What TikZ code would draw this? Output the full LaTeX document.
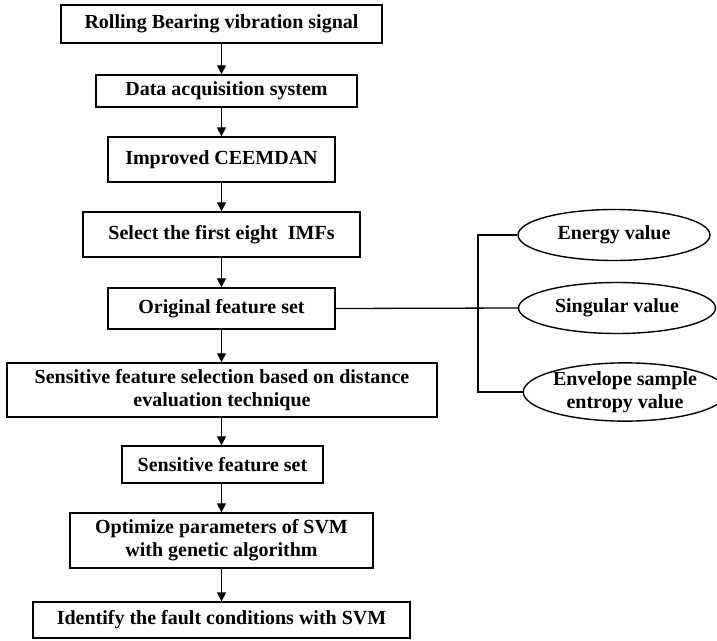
\documentclass[tikz,border=0pt]{standalone}
\usepackage{fontspec}
\setmainfont{Liberation Serif}
\usetikzlibrary{arrows.meta,shapes.geometric}
\begin{document}
\begin{tikzpicture}[x=1pt,y=-1pt,
  every node/.style={font=\bfseries\fontsize{20}{23}\selectfont, inner sep=0pt, align=center},
  box/.style={draw, line width=1.4pt, rectangle},
  oval/.style={draw, line width=1.4pt, ellipse},
  arr/.style={line width=1.3pt, -{Triangle[length=9pt,width=9pt]}},
  ln/.style={line width=1.3pt}]
\useasboundingbox (0,0) rectangle (717,640);
\node[box, minimum width=321pt, minimum height=38pt] (b1) at (221.5,24) {Rolling Bearing vibration signal};
\node[box, minimum width=261pt, minimum height=32pt] (b2) at (226.5,91) {Data acquisition system};
\node[box, minimum width=227pt, minimum height=45pt] (b3) at (221.5,159.5) {Improved CEEMDAN};
\node[box, minimum width=277pt, minimum height=45pt] (b4) at (221.5,234.5) {Select the first eight\ \ IMFs};
\node[box, minimum width=227pt, minimum height=41pt] (b5) at (221.5,308.5) {Original feature set};
\node[box, minimum width=430pt, minimum height=54pt] (b6) at (222,390) {Sensitive feature selection based on distance\\evaluation technique};
\node[box, minimum width=201pt, minimum height=37pt] (b7) at (222.5,464.5) {Sensitive feature set};
\node[box, minimum width=303pt, minimum height=55pt] (b8) at (221.5,540.5) {Optimize parameters of SVM\\with genetic algorithm};
\node[box, minimum width=377pt, minimum height=36pt] (b9) at (221.5,620) {Identify the fault conditions with SVM};
\node[oval, minimum width=192pt, minimum height=51pt] (e1) at (614,235) {Energy value};
\node[oval, minimum width=197pt, minimum height=51pt] (e2) at (617,308) {Singular value};
\node[oval, minimum width=184pt, minimum height=57pt] (e3) at (625,392) {Envelope sample\\entropy value};
\coordinate (jt) at (478,235);
\coordinate (jb) at (478,392);
\draw[arr] (b1.south) -- (b1.south |- b2.north);
\draw[arr] (b1.south |- b2.south) -- (b1.south |- b3.north);
\draw[arr] (b3.south) -- (b3.south |- b4.north);
\draw[arr] (b4.south) -- (b4.south |- b5.north);
\draw[arr] (b5.south) -- (b5.south |- b6.north);
\draw[arr] (b5.south |- b6.south) -- (b5.south |- b7.north);
\draw[arr] (b5.south |- b7.south) -- (b5.south |- b8.north);
\draw[arr] (b8.south) -- (b8.south |- b9.north);
\draw[ln] (b5.east) -- (e2.west);
\draw[ln] (e1.west) -- (jt) -- (jb) -- (e3.west);
\end{tikzpicture}
\end{document}
